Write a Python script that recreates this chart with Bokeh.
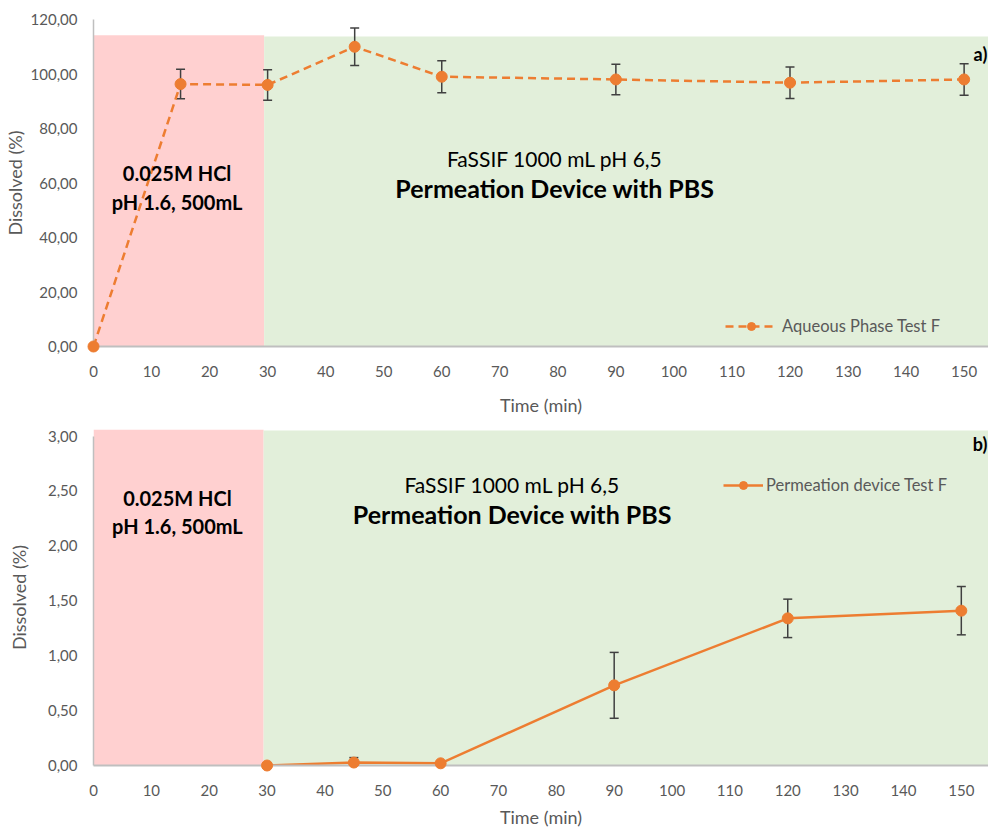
from bokeh.plotting import figure
from bokeh.models import (ColumnDataSource, Whisker, TeeHead, Label, Legend, LegendItem,
                          SingleIntervalTicker, CustomJSTickFormatter)
from bokeh.layouts import column
from bokeh.embed import file_html
from bokeh.resources import INLINE

# ---- data ----
time_a = [0, 15, 30, 45, 60, 90, 120, 150]
diss_a = [0.0, 96.3, 96.0, 110.0, 99.0, 98.0, 96.8, 98.0]
err_a = [0.0, 5.4, 5.6, 6.9, 5.9, 5.6, 5.8, 5.8]

time_b = [30, 45, 60, 90, 120, 150]
diss_b = [0.0, 0.027, 0.02, 0.73, 1.34, 1.41]
err_b = [0.0, 0.045, 0.01, 0.30, 0.175, 0.22]

phase_split = 29.4
acid_label = ["0.025M HCl", "pH 1.6, 500mL"]
fassif_label = ["FaSSIF 1000 mL pH 6,5", "Permeation Device with PBS"]
series_a = "Aqueous Phase Test F"
series_b = "Permeation device Test F"

ORANGE = "#ED7D31"
PINK = "#FFD0D0"
GREEN = "#E2EFDA"
GRAY_TXT = "#595959"
FONT = "Lato"

XEND_A = 154.2
XEND_B = 154.7


def style(p, yint):
    p.xaxis.ticker = SingleIntervalTicker(interval=10, num_minor_ticks=0)
    p.yaxis.ticker = SingleIntervalTicker(interval=yint, num_minor_ticks=0)
    p.yaxis.formatter = CustomJSTickFormatter(code="return tick.toFixed(2).replace('.', ',');")
    for ax in (p.xaxis, p.yaxis):
        ax.major_tick_out = 0
        ax.major_tick_in = 0
        ax.minor_tick_out = 0
        ax.minor_tick_in = 0
        ax.major_label_text_font = FONT
        ax.major_label_text_font_size = "15px"
        ax.major_label_text_color = GRAY_TXT
        ax.axis_label_text_font = FONT
        ax.axis_label_text_font_size = "18px"
        ax.axis_label_text_font_style = "normal"
        ax.axis_label_text_color = GRAY_TXT
        ax.axis_line_color = "#BFBFBF"
    p.xaxis.axis_line_width = 2
    p.yaxis.axis_line_width = 1.5
    p.yaxis.major_label_standoff = 16
    p.xgrid.visible = False
    p.ygrid.visible = False
    p.outline_line_color = None


def add_text(p, x, y, text, size, bold, align="center"):
    p.add_layout(Label(x=x, y=y, text=text, text_font=FONT, text_font_size=size,
                       text_font_style="bold" if bold else "normal", text_color="black",
                       text_align=align, text_baseline="middle"))


def errbar(p, src):
    head = dict(size=9, line_color="#404040", line_width=1.5)
    p.add_layout(Whisker(source=src, base="x", upper="up", lower="lo", line_color="#404040",
                         line_width=1.5, upper_head=TeeHead(**head), lower_head=TeeHead(**head)))


# ---------------- Panel a ----------------
p1 = figure(width=988, height=419, x_range=(0, XEND_A), y_range=(0, 120),
            output_backend="svg", toolbar_location=None,
            min_border_left=87, min_border_right=0, min_border_top=19, min_border_bottom=73)
style(p1, 20)
p1.xaxis.axis_label = "Time (min)"
p1.yaxis.axis_label = "Dissolved (%)"
p1.xaxis.major_label_standoff = 19
p1.xaxis.axis_label_standoff = 14
p1.yaxis.axis_label_standoff = 2

r = p1.quad(left=[0], right=[phase_split], bottom=[0], top=[114.2], fill_color=PINK, line_color=None)
r.level = "image"
r = p1.quad(left=[phase_split], right=[XEND_A], bottom=[0], top=[113.8], fill_color=GREEN, line_color=None)
r.level = "image"

src_a = ColumnDataSource(dict(x=time_a, y=diss_a))
wa = ColumnDataSource(dict(x=[t for t, e in zip(time_a, err_a) if e > 0],
                           up=[v + e for v, e in zip(diss_a, err_a) if e > 0],
                           lo=[v - e for v, e in zip(diss_a, err_a) if e > 0]))
errbar(p1, wa)
la = p1.line("x", "y", source=src_a, line_color=ORANGE, line_width=2.5, line_dash="8 5")
sa = p1.scatter("x", "y", source=src_a, size=11, fill_color=ORANGE, line_color=ORANGE)
sa.level = "overlay"

leg1 = Legend(items=[LegendItem(label=series_a, renderers=[la, sa])], location=(632, 10),
              padding=0, spacing=0, margin=0, glyph_width=52, glyph_height=20, label_standoff=5,
              label_text_font=FONT, label_text_font_size="16.5px", label_text_color=GRAY_TXT,
              background_fill_alpha=0, border_line_color=None)
p1.add_layout(leg1)

add_text(p1, 14.4, 63.5, acid_label[0], "20px", True)
add_text(p1, 14.4, 53.2, acid_label[1], "20px", True)
add_text(p1, 79.5, 69.0, fassif_label[0], "21px", False)
add_text(p1, 79.5, 58.0, fassif_label[1], "25px", True)
add_text(p1, 154.0, 107.5, "a)", "18px", True, align="right")

# ---------------- Panel b ----------------
p2 = figure(width=988, height=412, x_range=(0, XEND_B), y_range=(0, 3.06),
            output_backend="svg", toolbar_location=None,
            min_border_left=84, min_border_right=0, min_border_top=10, min_border_bottom=66)
style(p2, 0.5)
p2.yaxis.bounds = (0, 3)
p2.xaxis.axis_label = "Time (min)"
p2.yaxis.axis_label = "Dissolved (%)"
p2.xaxis.major_label_standoff = 19
p2.xaxis.axis_label_standoff = 7
p2.yaxis.axis_label_standoff = 15

r = p2.quad(left=[0], right=[phase_split], bottom=[0], top=[3.06], fill_color=PINK, line_color=None)
r.level = "image"
r = p2.quad(left=[phase_split], right=[XEND_B], bottom=[0], top=[3.05], fill_color=GREEN, line_color=None)
r.level = "image"

src_b = ColumnDataSource(dict(x=time_b, y=diss_b))
wb = ColumnDataSource(dict(x=[t for t, e in zip(time_b, err_b) if e > 0],
                           up=[v + e for v, e in zip(diss_b, err_b) if e > 0],
                           lo=[max(v - e, 0) for v, e in zip(diss_b, err_b) if e > 0]))
errbar(p2, wb)
lb = p2.line("x", "y", source=src_b, line_color=ORANGE, line_width=2.5)
sb = p2.scatter("x", "y", source=src_b, size=11, fill_color=ORANGE, line_color=ORANGE)
sb.level = "overlay"

leg2 = Legend(items=[LegendItem(label=series_b, renderers=[lb, sb])], location=(630, 270),
              padding=0, spacing=0, margin=0, glyph_width=40, glyph_height=20, label_standoff=3,
              label_text_font=FONT, label_text_font_size="16.5px", label_text_color=GRAY_TXT,
              background_fill_alpha=0, border_line_color=None)
p2.add_layout(leg2)

add_text(p2, 14.5, 2.434, acid_label[0], "20px", True)
add_text(p2, 14.5, 2.18, acid_label[1], "20px", True)
add_text(p2, 72.4, 2.56, fassif_label[0], "21px", False)
add_text(p2, 72.4, 2.29, fassif_label[1], "25px", True)
add_text(p2, 154.5, 2.93, "b)", "18px", True, align="right")

layout = column(p1, p2, spacing=0)
open("out.html", "w").write(file_html(layout, INLINE))
